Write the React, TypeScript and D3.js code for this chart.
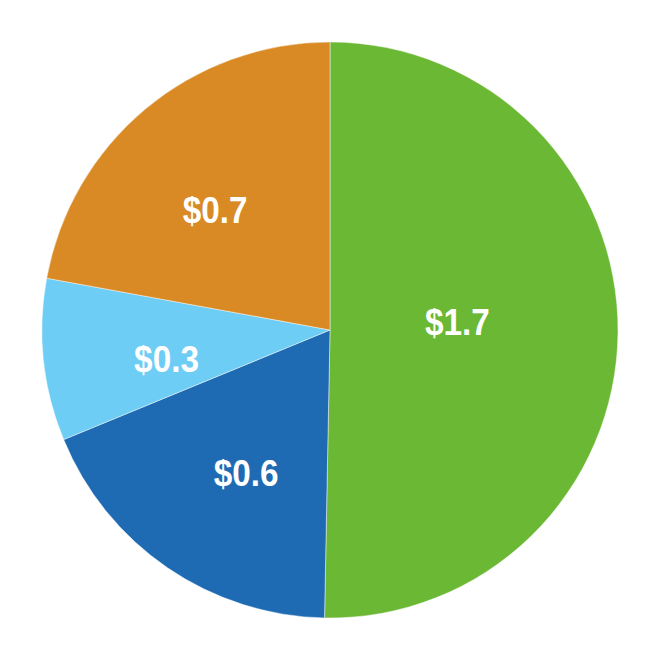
import React, { useRef, useEffect } from 'react';
import * as d3 from 'd3';

// slice values, read clockwise from 12 o'clock
const values = [1.66, 0.61, 0.3, 0.73];
const labels = ['$1.7', '$0.6', '$0.3', '$0.7'];
const colors = ['#6bb835', '#1e6bb4', '#6ecdf4', '#d98a25'];

const App = () => {
    const width = 658;
    const height = 660;
    const cx = 330;
    const cy = 330;
    const radius = 288;
    const ref = useRef<SVGSVGElement>(null);

    useEffect(() => {
        if (!ref.current) return;
        const svg = d3.select(ref.current);
        svg.selectAll('*').remove();

        const g = svg.append('g').attr('transform', `translate(${cx}, ${cy})`);

        const pie = d3.pie<number>().sort(null).value(d => d);
        const arcs = pie(values);

        const arc = d3.arc<d3.PieArcDatum<number>>()
            .innerRadius(0)
            .outerRadius(radius);

        g.selectAll('path.slice')
            .data(arcs)
            .enter()
            .append('path')
            .attr('class', 'slice')
            .attr('d', arc)
            .attr('fill', (d, i) => colors[i])
            .attr('stroke', '#ffffff')
            .attr('stroke-opacity', 0.6)
            .attr('stroke-width', 0.75);

        // label distance: wedge centroid, capped for the smaller slices
        // labels sit a few degrees counter-clockwise of the mid angle
        const labelPos = (d: d3.PieArcDatum<number>) => {
            const theta = d.endAngle - d.startAngle;
            const geo = (4 * radius * Math.sin(theta / 2)) / (3 * theta);
            const r = Math.min(geo * 1.05, 166);
            const mid = (d.startAngle + d.endAngle) / 2 - (4 * Math.PI) / 180;
            return [r * Math.sin(mid), -r * Math.cos(mid)];
        };

        const labelG = g.selectAll('g.label')
            .data(arcs)
            .enter()
            .append('g')
            .attr('class', 'label')
            .attr('transform', d => `translate(${labelPos(d)[0]}, ${labelPos(d)[1]}) scale(0.9, 1)`);

        labelG.append('text')
            .attr('x', 0)
            .attr('y', 13)
            .attr('text-anchor', 'middle')
            .attr('fill', '#ffffff')
            .style('font-family', '"Liberation Sans", Arial, sans-serif')
            .style('font-weight', 'bold')
            .style('font-size', '37px')
            .text((d, i) => labels[i]);
    }, []);

    return (
        <svg ref={ref} width={width} height={height}
            style={{ position: 'absolute', left: 0, top: 0, background: '#ffffff' }} />
    );
};

export default App;
